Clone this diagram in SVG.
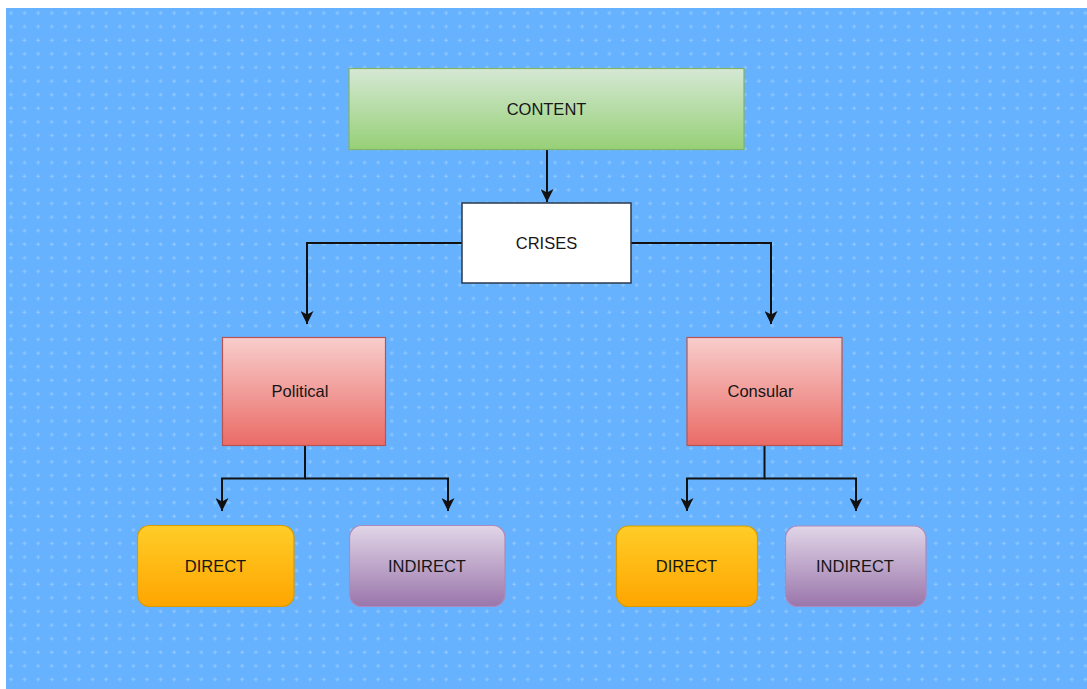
<svg xmlns="http://www.w3.org/2000/svg" width="1087" height="689" viewBox="0 0 1087 689">
  <style>
    .lbl { font-family: "Liberation Sans", Arial, sans-serif; font-size: 16.5px; fill: #161616; text-anchor: middle; dominant-baseline: central; }
    .edge { fill: none; stroke: #111; stroke-width: 2; }
  </style>
  <defs>
    <pattern id="grid" x="4" y="6" width="13.6" height="13.6" patternUnits="userSpaceOnUse">
      <path d="M5 7 H9 M7 5 V9" stroke="#ffffff" stroke-opacity="0.3" stroke-width="1"/>
    </pattern>
    <linearGradient id="gGreen" x1="0" y1="0" x2="0" y2="1">
      <stop offset="0" stop-color="#d5e8d4"/>
      <stop offset="1" stop-color="#97d077"/>
    </linearGradient>
    <linearGradient id="gRed" x1="0" y1="0" x2="0" y2="1">
      <stop offset="0" stop-color="#f8cecc"/>
      <stop offset="1" stop-color="#ea6b66"/>
    </linearGradient>
    <linearGradient id="gOrange" x1="0" y1="0" x2="0" y2="1">
      <stop offset="0" stop-color="#ffcd28"/>
      <stop offset="1" stop-color="#ffa500"/>
    </linearGradient>
    <linearGradient id="gPurple" x1="0" y1="0" x2="0" y2="1">
      <stop offset="0" stop-color="#e1d5e7"/>
      <stop offset="1" stop-color="#9a76ab"/>
    </linearGradient>
    <marker id="arrow" viewBox="0 0 13 13" refX="13" refY="6.5" markerWidth="13" markerHeight="13" markerUnits="userSpaceOnUse" orient="auto">
      <path d="M0 0 L13 6.5 L0 13 L3.5 6.5 Z" fill="#111"/>
    </marker>
  </defs>

  <!-- canvas -->
  <rect x="0" y="0" width="1087" height="689" fill="#ffffff"/>
  <rect x="6" y="8" width="1081" height="681" fill="#66b2ff"/>
  <rect x="6" y="8" width="1081" height="681" fill="url(#grid)"/>

  <!-- connectors -->
  <g id="connectors">
    <path class="edge" d="M547 149 V202" marker-end="url(#arrow)"/>
    <path class="edge" d="M462 243 H307 V324" marker-end="url(#arrow)"/>
    <path class="edge" d="M631 243 H771 V324" marker-end="url(#arrow)"/>
    <path class="edge" d="M305 445 V478.5 H222 V511" marker-end="url(#arrow)"/>
    <path class="edge" d="M305 478.5 H448 V511" marker-end="url(#arrow)"/>
    <path class="edge" d="M764.5 445 V478.5 H687 V511" marker-end="url(#arrow)"/>
    <path class="edge" d="M764.5 478.5 H856 V511" marker-end="url(#arrow)"/>
  </g>

  <g id="content">
    <rect x="349" y="68.5" width="395" height="81" fill="url(#gGreen)" stroke="#82b366" stroke-width="1.2"/>
    <text class="lbl" x="546.5" y="108.5">CONTENT</text>
  </g>

  <g id="crises">
    <rect x="462" y="203" width="169" height="80" fill="#ffffff" stroke="#2b3a4a" stroke-width="1.5"/>
    <text class="lbl" x="546.5" y="243">CRISES</text>
  </g>

  <g id="political">
    <rect x="222.5" y="337.5" width="163" height="108" fill="url(#gRed)" stroke="#b85450" stroke-width="1.2"/>
    <text class="lbl" x="300" y="391">Political</text>
  </g>

  <g id="consular">
    <rect x="687" y="337.5" width="155" height="108" fill="url(#gRed)" stroke="#b85450" stroke-width="1.2"/>
    <text class="lbl" x="760.5" y="391">Consular</text>
  </g>

  <g id="direct-political">
    <rect x="137.5" y="525.5" width="156.5" height="81" rx="12" fill="url(#gOrange)" stroke="#d79b00" stroke-width="1.2"/>
    <text class="lbl" x="215.5" y="566">DIRECT</text>
  </g>

  <g id="indirect-political">
    <rect x="349.5" y="525.5" width="155.5" height="81" rx="12" fill="url(#gPurple)" stroke="#a98bbd" stroke-width="1.2"/>
    <text class="lbl" x="427" y="566">INDIRECT</text>
  </g>

  <g id="direct-consular">
    <rect x="616.5" y="526" width="141" height="80.5" rx="12" fill="url(#gOrange)" stroke="#d79b00" stroke-width="1.2"/>
    <text class="lbl" x="686.5" y="566">DIRECT</text>
  </g>

  <g id="indirect-consular">
    <rect x="785.5" y="526" width="140.5" height="80.5" rx="12" fill="url(#gPurple)" stroke="#a98bbd" stroke-width="1.2"/>
    <text class="lbl" x="855" y="566">INDIRECT</text>
  </g>
</svg>
